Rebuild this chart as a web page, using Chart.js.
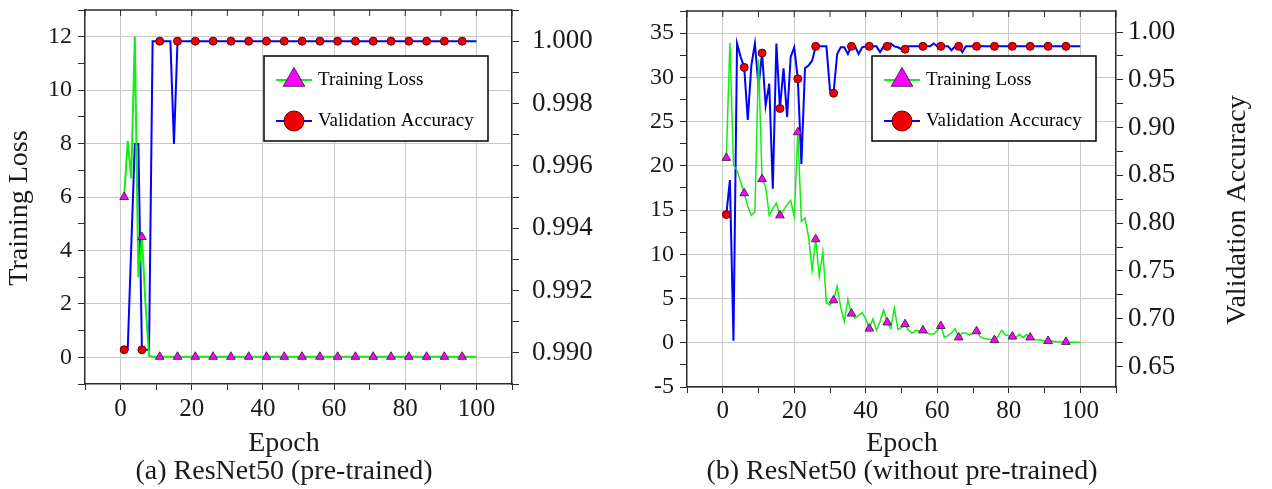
<!DOCTYPE html>
<html>
<head>
<meta charset="utf-8">
<script src="https://cdn.jsdelivr.net/npm/chart.js@4.4.1/dist/chart.umd.min.js"></script>
<style>
  body { margin: 0; background: #fff; }
  #wrap { position: relative; width: 1272px; height: 489px; overflow: hidden; }
  canvas { position: absolute; top: 0; }
  #chartA { left: -32px; }
  #chartB { left: 546px; }
</style>
</head>
<body>
<div id="wrap">
  <canvas id="chartA" width="632" height="489"></canvas>
  <canvas id="chartB" width="712" height="489"></canvas>
</div>
<script>
// epochs 1..100
var epochs = [];
for (var i = 1; i <= 100; i++) epochs.push(i);

// (a) ResNet50 pre-trained
var lossA = [
  6.0, 8.1, 6.7, 12.0, 3.0, 4.5, 2.0, 0.05, 0.02, 0.02,
  0.02, 0.02, 0.02, 0.02, 0.02, 0.02, 0.02, 0.02, 0.02, 0.02,
  0.02, 0.02, 0.02, 0.02, 0.02, 0.02, 0.02, 0.02, 0.02, 0.02,
  0.02, 0.02, 0.02, 0.02, 0.02, 0.02, 0.02, 0.02, 0.02, 0.02,
  0.02, 0.02, 0.02, 0.02, 0.02, 0.02, 0.02, 0.02, 0.02, 0.02,
  0.02, 0.02, 0.02, 0.02, 0.02, 0.02, 0.02, 0.02, 0.02, 0.02,
  0.02, 0.02, 0.02, 0.02, 0.02, 0.02, 0.02, 0.02, 0.02, 0.02,
  0.02, 0.02, 0.02, 0.02, 0.02, 0.02, 0.02, 0.02, 0.02, 0.02,
  0.02, 0.02, 0.02, 0.02, 0.02, 0.02, 0.02, 0.02, 0.02, 0.02,
  0.02, 0.02, 0.02, 0.02, 0.02, 0.02, 0.02, 0.02, 0.02, 0.02
];
var accA = [
  0.9901, 0.9901, 0.9934, 0.9967, 0.9967, 0.9901, 0.9901, 0.9901, 1.000, 1.000,
  1.000, 1.000, 1.000, 1.000, 0.9967, 1.000, 1.000, 1.000, 1.000, 1.000,
  1.000, 1.000, 1.000, 1.000, 1.000, 1.000, 1.000, 1.000, 1.000, 1.000,
  1.000, 1.000, 1.000, 1.000, 1.000, 1.000, 1.000, 1.000, 1.000, 1.000,
  1.000, 1.000, 1.000, 1.000, 1.000, 1.000, 1.000, 1.000, 1.000, 1.000,
  1.000, 1.000, 1.000, 1.000, 1.000, 1.000, 1.000, 1.000, 1.000, 1.000,
  1.000, 1.000, 1.000, 1.000, 1.000, 1.000, 1.000, 1.000, 1.000, 1.000,
  1.000, 1.000, 1.000, 1.000, 1.000, 1.000, 1.000, 1.000, 1.000, 1.000,
  1.000, 1.000, 1.000, 1.000, 1.000, 1.000, 1.000, 1.000, 1.000, 1.000,
  1.000, 1.000, 1.000, 1.000, 1.000, 1.000, 1.000, 1.000, 1.000, 1.000
];

// (b) ResNet50 without pre-training
var lossB = [
  20.9, 33.9, 20.1, 19.5, 18.2, 16.9, 15.4, 14.4, 14.8, 32.0,
  18.5, 17.6, 14.4, 15.2, 15.8, 14.4, 15.0, 15.6, 16.1, 14.3,
  23.8, 13.7, 14.1, 12.0, 8.2, 11.7, 7.5, 10.3, 4.5, 4.3,
  4.8, 6.4, 4.0, 2.4, 4.9, 3.3, 2.8, 3.1, 3.4, 2.7,
  1.6, 2.7, 1.4, 2.4, 3.7, 2.3, 1.6, 3.9, 1.5, 1.7,
  2.1, 1.4, 1.1, 1.4, 1.3, 1.4, 1.1, 1.0, 1.0, 1.4,
  1.9, 0.6, 0.8, 1.1, 1.6, 0.6, 1.1, 1.1, 0.9, 1.1,
  1.3, 0.7, 0.5, 0.4, 0.4, 0.3, 0.7, 1.4, 0.9, 0.8,
  0.7, 0.6, 0.95, 0.6, 0.9, 0.6, 0.4, 0.3, 0.3, 0.2,
  0.2, 0.2, 0.15, 0.1, 0.1, 0.1, 0.05, 0.05, 0.05, 0.05
];
var accB = [
  0.809, 0.845, 0.677, 0.988, 0.974, 0.963, 0.908, 0.965, 0.988, 0.943,
  0.978, 0.923, 0.946, 0.836, 0.988, 0.920, 0.962, 0.911, 0.974, 0.984,
  0.951, 0.862, 0.962, 0.965, 0.970, 0.985, 0.985, 0.985, 0.985, 0.939,
  0.936, 0.977, 0.984, 0.984, 0.977, 0.985, 0.985, 0.977, 0.984, 0.985,
  0.985, 0.985, 0.985, 0.979, 0.985, 0.985, 0.988, 0.985, 0.984, 0.982,
  0.982, 0.985, 0.985, 0.985, 0.985, 0.985, 0.985, 0.985, 0.988, 0.985,
  0.985, 0.985, 0.985, 0.981, 0.985, 0.985, 0.979, 0.985, 0.985, 0.985,
  0.985, 0.985, 0.985, 0.985, 0.985, 0.985, 0.985, 0.985, 0.985, 0.985,
  0.985, 0.985, 0.985, 0.985, 0.985, 0.985, 0.985, 0.985, 0.985, 0.985,
  0.985, 0.985, 0.985, 0.985, 0.985, 0.985, 0.985, 0.985, 0.985, 0.985
];

// labelled ticks
var xTicks = [0, 20, 40, 60, 80, 100];
var lossTicksA = [0, 2, 4, 6, 8, 10, 12];
var accTicksA = [0.990, 0.992, 0.994, 0.996, 0.998, 1.000];
var lossTicksB = [-5, 0, 5, 10, 15, 20, 25, 30, 35];
var accTicksB = [0.65, 0.70, 0.75, 0.80, 0.85, 0.90, 0.95, 1.00];

var axisColor = '#2a2a2a';
var gridColor = '#c9c9c9';

Chart.defaults.font.family = '"Liberation Serif", "Times New Roman", serif';
Chart.defaults.color = '#1a1a1a';

function inList(list, v) {
  for (var k = 0; k < list.length; k++) {
    if (Math.abs(list[k] - v) < 1e-6) return true;
  }
  return false;
}

function labelFrom(list, digits) {
  return function (v) {
    if (!inList(list, v)) return '';
    return digits ? Number(v).toFixed(digits) : String(Math.round(v));
  };
}

function gridIf(list) {
  return function (ctx) {
    return ctx.tick && inList(list, ctx.tick.value) ? gridColor : 'rgba(0,0,0,0)';
  };
}

function fix(w, h) {
  return function (scale) {
    if (w) scale.width = w;
    if (h) scale.height = h;
    scale.paddingTop = 0;
    scale.paddingBottom = 0;
    scale.paddingLeft = 0;
    scale.paddingRight = 0;
  };
}

function every5(r) {
  return function (ctx) { return ctx.dataIndex % 5 === 0 ? r : 0; };
}

function pts(list) {
  return list.map(function (v, k) { return { x: epochs[k], y: v }; });
}

function marker(ctx, style, x, y, r, fill, stroke) {
  ctx.beginPath();
  if (style === 'triangle') {
    ctx.moveTo(x, y - r);
    ctx.lineTo(x + r * 0.866, y + r * 0.5);
    ctx.lineTo(x - r * 0.866, y + r * 0.5);
    ctx.closePath();
  } else {
    ctx.arc(x, y, r, 0, Math.PI * 2);
  }
  ctx.fillStyle = fill;
  ctx.fill();
  ctx.lineWidth = 1;
  ctx.strokeStyle = stroke;
  ctx.stroke();
}

// legend box with line + marker samples
var boxLegend = {
  id: 'boxLegend',
  afterDatasetsDraw: function (chart, args, opts) {
    var ctx = chart.ctx, a = chart.chartArea;
    var w = 224, h = 85;
    var x = a.right - opts.right - w, y = a.top + opts.top;
    ctx.save();
    ctx.fillStyle = '#fff';
    ctx.fillRect(x, y, w, h);
    ctx.lineWidth = 1.5;
    ctx.strokeStyle = '#000';
    ctx.strokeRect(x, y, w, h);
    chart.data.datasets.forEach(function (ds, k) {
      var cy = y + 24 + k * 41;
      ctx.strokeStyle = ds.borderColor;
      ctx.lineWidth = 2;
      ctx.beginPath();
      ctx.moveTo(x + 12, cy);
      ctx.lineTo(x + 48, cy);
      ctx.stroke();
      if (ds.pointStyle === 'triangle') {
        marker(ctx, 'triangle', x + 30, cy, 12.5, ds.pointBackgroundColor, ds.pointBorderColor);
      } else {
        marker(ctx, 'circle', x + 30, cy, 10, ds.pointBackgroundColor, ds.pointBorderColor);
      }
      ctx.fillStyle = '#000';
      ctx.font = '19px "Liberation Serif", serif';
      ctx.textAlign = 'left';
      ctx.textBaseline = 'middle';
      ctx.fillText(ds.label, x + 54, cy);
    });
    ctx.restore();
  }
};

// top border of the frame with inward ticks
var frameTop = {
  id: 'frameTop',
  afterDraw: function (chart) {
    var ctx = chart.ctx, a = chart.chartArea, xs = chart.scales.x;
    ctx.save();
    ctx.strokeStyle = axisColor;
    ctx.lineWidth = 1.5;
    ctx.beginPath();
    ctx.moveTo(a.left, a.top);
    ctx.lineTo(a.right, a.top);
    ctx.stroke();
    ctx.lineWidth = 1;
    xs.ticks.forEach(function (t) {
      var px = xs.getPixelForValue(t.value);
      ctx.beginPath();
      ctx.moveTo(px, a.top);
      ctx.lineTo(px, a.top + 6);
      ctx.stroke();
    });
    ctx.restore();
  }
};

// vertical axis titles, both read bottom-to-top
var sideTitles = {
  id: 'sideTitles',
  afterDraw: function (chart, args, opts) {
    var ctx = chart.ctx, a = chart.chartArea;
    var cy = (a.top + a.bottom) / 2 + 11;
    ctx.save();
    ctx.fillStyle = '#1a1a1a';
    ctx.font = '28px "Liberation Serif", serif';
    ctx.textAlign = 'center';
    ctx.textBaseline = 'middle';
    if (opts.left) {
      ctx.save();
      ctx.translate(a.left - opts.leftGap, cy);
      ctx.rotate(-Math.PI / 2);
      ctx.fillText(opts.left, 0, 0);
      ctx.restore();
    }
    if (opts.right) {
      ctx.save();
      ctx.translate(a.right + opts.rightGap, cy);
      ctx.rotate(-Math.PI / 2);
      ctx.fillText(opts.right, 0, 0);
      ctx.restore();
    }
    ctx.restore();
  }
};

function makeChart(id, loss, acc, o) {
  return new Chart(document.getElementById(id), {
    type: 'line',
    data: {
      datasets: [
        {
          label: 'Training Loss',
          data: pts(loss),
          yAxisID: 'y',
          borderColor: '#11ee11',
          borderWidth: o.lossWidth,
          pointStyle: 'triangle',
          pointRadius: every5(5),
          pointBackgroundColor: '#ff00ff',
          pointBorderColor: '#4a2a4a',
          pointBorderWidth: 1
        },
        {
          label: 'Validation Accuracy',
          data: pts(acc),
          yAxisID: 'y1',
          borderColor: '#0000ff',
          borderWidth: 2,
          pointStyle: 'circle',
          pointRadius: every5(4),
          pointBackgroundColor: '#ee0000',
          pointBorderColor: '#600000',
          pointBorderWidth: 1
        }
      ]
    },
    options: {
      responsive: false,
      animation: false,
      devicePixelRatio: 1,
      layout: { padding: { left: 0, right: 0, top: o.padTop, bottom: 3 } },
      scales: {
        x: {
          type: 'linear',
          min: -10,
          max: 110,
          afterFit: fix(0, o.xH),
          ticks: { stepSize: 10, autoSkip: false, maxRotation: 0, padding: o.xPad, font: { size: 25 }, callback: labelFrom(xTicks) },
          grid: { color: gridIf(xTicks), tickColor: axisColor, tickLength: 6, tickWidth: 1 },
          border: { color: axisColor, width: 1.5 }
        },
        y: {
          position: 'left',
          min: o.lossMin,
          max: o.lossMax,
          afterFit: fix(o.leftW, 0),
          ticks: { stepSize: o.lossStep, autoSkip: false, includeBounds: false, padding: 6, font: { size: 24 }, callback: labelFrom(o.lossTicks) },
          grid: { color: gridIf(o.lossTicks), tickColor: axisColor, tickLength: 7, tickWidth: 1 },
          border: { color: axisColor, width: 1.5 }
        },
        y1: {
          position: 'right',
          min: o.accMin,
          max: o.accMax,
          afterFit: fix(o.rightW, 0),
          ticks: { stepSize: o.accStep, autoSkip: false, includeBounds: false, padding: o.rightPad, font: { size: 27 }, callback: labelFrom(o.accTicks, o.accDigits) },
          grid: { drawOnChartArea: false, tickColor: axisColor, tickLength: 7, tickWidth: 1 },
          border: { color: axisColor, width: 1.5 }
        }
      },
      plugins: {
        legend: { display: false },
        tooltip: { enabled: false },
        subtitle: { display: true, position: 'bottom', text: 'Epoch', font: { size: 28, lineHeight: 1 }, padding: 0, color: '#1a1a1a' },
        title: { display: true, position: 'bottom', text: o.caption, font: { size: 28, weight: 'normal', lineHeight: 1 }, padding: 0, color: '#1a1a1a' },
        boxLegend: o.legend,
        sideTitles: o.titles
      }
    },
    plugins: [boxLegend, frameTop, sideTitles]
  });
}

makeChart('chartA', lossA, accA, {
  caption: '(a) ResNet50 (pre-trained)',
  titles: { left: 'Training Loss', leftGap: 65 },
  lossMin: -1, lossMax: 13, lossStep: 1, lossTicks: lossTicksA,
  accMin: 0.989, accMax: 1.001, accStep: 0.001, accTicks: accTicksA, accDigits: 3,
  leftW: 117, rightW: 88, rightPad: 13, xH: 46, xPad: 4,
  padTop: 10, lossWidth: 2,
  legend: { right: 24, top: 46 }
});

makeChart('chartB', lossB, accB, {
  caption: '(b) ResNet50 (without pre-trained)',
  titles: { right: 'Validation Accuracy', rightGap: 122 },
  lossMin: -5, lossMax: 37.5, lossStep: 2.5, lossTicks: lossTicksB,
  accMin: 0.6285, accMax: 1.022, accStep: 0.025, accTicks: accTicksB, accDigits: 2,
  leftW: 141, rightW: 142, rightPad: 5, xH: 43, xPad: 3,
  padTop: 11, lossWidth: 1.5,
  legend: { right: 20, top: 45 }
});
</script>
</body>
</html>
